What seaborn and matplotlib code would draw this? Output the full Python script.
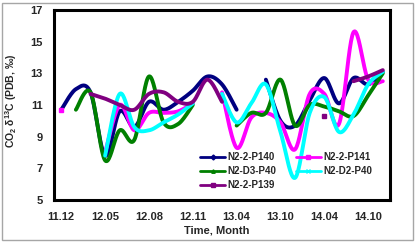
# CO2 δ13C の時系列（5 系列、スムージング線）を再現するコード

import matplotlib

matplotlib.use("Agg")
import matplotlib.pyplot as plt
from matplotlib.lines import Line2D
from matplotlib.patches import Rectangle
import numpy as np
import pandas as pd
import seaborn as sns

nan = np.nan

months = [
    "11.12", "12.02", "12.03", "12.05", "12.06", "12.07", "12.08", "12.09",
    "12.10", "12.11", "12.12", "13.02", "13.04", "13.06", "13.08", "13.10",
    "13.12", "14.02", "14.04", "14.06", "14.08", "14.10", "14.12",
]
tick_labels = ["11.12", "12.05", "12.08", "12.11", "13.04", "13.10", "14.04", "14.10"]

p140 = [10.7, 12.0, 11.8, 7.8, 10.6, 9.6, 11.2, 10.7, 11.2, 11.9, 12.8, 12.3,
        10.7, nan, 12.6, 10.0, 9.7, 11.3, 12.7, 11.1, 12.7, 12.3, 13.1]
p141 = [10.7, nan, nan, 8.0, 11.0, 9.4, 10.5, 10.5, 10.6, 11.1, nan, 11.8,
        8.3, 10.2, 10.5, 9.9, 8.2, 11.7, 11.7, 9.8, 15.6, 12.6, 12.5]
d3p40 = [nan, 10.7, 11.8, 7.5, 9.4, 8.8, 12.8, 9.9, 9.8, 11.0, nan, nan,
         9.7, 10.5, 10.5, 12.6, 9.7, 11.0, 10.9, 10.6, 10.3, 11.6, 13.0]
d2p40 = [nan, nan, nan, 7.8, 11.7, 9.6, 9.4, 9.9, 10.4, 11.1, nan, 11.7,
         9.9, 11.1, 12.3, 9.3, 6.4, 10.5, 11.5, 9.3, 10.4, 12.3, 13.1]
p139 = [nan, nan, 11.7, 11.4, 11.0, 10.7, 11.7, 11.8, 11.2, 11.2, 12.6, 11.2,
        nan, nan, nan, nan, nan, nan, 10.3, nan, 12.5, 12.8, 13.2]

series_names = ["N2-2-P140", "N2-2-P141", "N2-D3-P40", "N2-D2-P40", "N2-2-P139"]
series_values = [p140, p141, d3p40, d2p40, p139]
colors = ["#000080", "#FF00FF", "#008000", "#00FFFF", "#800080"]
markers = ["D", "s", "^", "x", "s"]


def smooth_segment(xs, ys, n=24):
    """Excel 風のスムージング（Catmull-Rom ベジェ）"""
    pts = np.column_stack([xs, ys]).astype(float)
    P = np.vstack([pts[0], pts, pts[-1]])
    out = []
    t = np.linspace(0, 1, n)[:, None]
    for k in range(1, len(P) - 2):
        p0, p1, p2, p3 = P[k - 1], P[k], P[k + 1], P[k + 2]
        c1 = p1 + (p2 - p0) / 6
        c2 = p2 - (p3 - p1) / 6
        seg = (1 - t) ** 3 * p1 + 3 * (1 - t) ** 2 * t * c1 + 3 * (1 - t) * t ** 2 * c2 + t ** 3 * p2
        out.append(seg if k == 1 else seg[1:])
    return np.vstack(out)


rows = []
singles = []
for name, vals in zip(series_names, series_values):
    vals = np.array(vals, dtype=float)
    idx = np.arange(len(vals))
    seg_id = 0
    start = None
    for i in range(len(vals) + 1):
        ok = i < len(vals) and not np.isnan(vals[i])
        if ok and start is None:
            start = i
        if not ok and start is not None:
            xs, ys = idx[start:i], vals[start:i]
            if len(xs) == 1:
                singles.append((name, xs[0], ys[0]))
            else:
                curve = smooth_segment(xs, ys)
                for x, y in curve:
                    rows.append({"series": name, "seg": f"{name}_{seg_id}", "x": x, "y": y})
                seg_id += 1
            start = None
dense = pd.DataFrame(rows)

sns.set_theme(style="white")
plt.rcParams["font.family"] = ["Liberation Sans", "DejaVu Sans"]
plt.rcParams["font.weight"] = "bold"
plt.rcParams["mathtext.default"] = "regular"

fig = plt.figure(figsize=(4.15, 2.43), dpi=100)
ax = fig.add_axes([0.130, 0.177, 0.810, 0.782])

palette = dict(zip(series_names, colors))
sns.lineplot(
    data=dense, x="x", y="y", hue="series", units="seg", estimator=None,
    sort=False, hue_order=series_names, palette=palette, linewidth=2.8,
    legend=False, ax=ax,
)
for name, x, y in singles:
    k = series_names.index(name)
    ax.plot([x], [y], marker=markers[k], color=colors[k], ms=3, ls="none")

ax.set_xlim(-0.5, len(months) - 0.5)
ax.set_ylim(5, 17)
ax.set_yticks(range(5, 18, 2))
ax.set_xticks([months.index(m) for m in tick_labels])
ax.set_xticklabels(tick_labels)
ax.set_xticks(np.arange(-0.5, len(months), 1), minor=True)
ax.tick_params(axis="x", which="major", length=0, pad=9, labelsize=8)
ax.tick_params(axis="x", which="minor", direction="in", length=3, width=0.8, color="#808080")
ax.tick_params(axis="y", direction="in", length=3, width=0.8, color="#808080", pad=8, labelsize=8)
for lab in ax.get_xticklabels() + ax.get_yticklabels():
    lab.set_fontweight("bold")
for sp in ax.spines.values():
    sp.set_visible(True)
    sp.set_color("black")
    sp.set_linewidth(2.2)

ax.set_xlabel("Time, Month", fontsize=8, fontweight="bold")
ax.xaxis.set_label_coords(0.485, -0.135)
ax.set_ylabel("CO$_2$ δ$^{13}$C (PDB, ‰)", fontsize=7.5, fontweight="bold")
ax.yaxis.set_label_coords(-0.105, 0.52)

# 凡例は行方向に並べる（列優先で詰まるので順序を入れ替える）
order = [0, 2, 4, 1, 3]
handles = [
    Line2D([], [], color=colors[k], lw=2, marker=markers[k], ms=2.5) for k in order
]
ax.legend(
    handles, [series_names[k] for k in order], ncol=2, loc="upper left",
    bbox_to_anchor=(0.435, 0.25), frameon=False,
    prop={"weight": "bold", "size": 7},
    handlelength=2.6, handletextpad=0.2, columnspacing=2.0, labelspacing=0.4,
    borderaxespad=0, borderpad=0,
)

fig.patches.append(
    Rectangle((0.006, 0.0103), 0.988, 0.979, transform=fig.transFigure,
              fill=False, edgecolor="#A6A6A6", linewidth=1.0)
)

fig.savefig("out.png", dpi=100)
